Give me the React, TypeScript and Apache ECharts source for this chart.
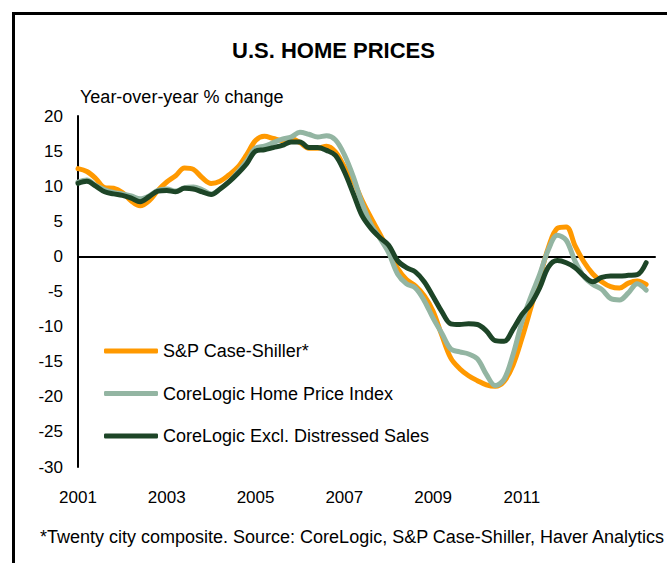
import React, { useEffect, useRef } from "react";
import * as echarts from "echarts";

// Sampling grid: first period and step, in axis years
const START_YEAR = 2001;
const STEP = 0.2;

// Year-over-year % change
const spCaseShiller = [
  12.5, 12.1, 11.1, 9.8, 9.7, 9.1, 7.9, 7.2, 7.9, 9.4,
  10.6, 11.5, 12.6, 12.4, 11.2, 10.4, 10.7, 11.6, 12.7, 14.5,
  16.5, 17.1, 16.8, 16.5, 16.8, 16.2, 15.4, 15.4, 15.7, 14.9,
  12.8, 10.8, 8.0, 5.5, 3.2, 0.8, -1.7, -3.3, -4.2, -5.6,
  -7.8, -11.3, -14.5, -16.0, -17.0, -17.7, -18.3, -18.5, -17.8, -15.5,
  -11.7, -7.4, -3.1, 1.3, 4.0, 4.2, 1.5, -0.8, -2.5, -3.6,
  -4.3, -4.5, -3.8, -3.5, -4.0,
];

const coreLogicHPI = [
  10.6, 10.9, 10.1, 9.5, 9.1, 8.9, 8.6, 8.2, 8.6, 9.4,
  9.6, 9.3, 9.8, 9.9, 9.5, 8.9, 9.6, 10.6, 12.0, 13.6,
  15.4, 15.7, 16.2, 16.7, 17.0, 17.7, 17.4, 17.0, 17.2, 16.6,
  14.5, 11.4, 7.6, 4.6, 2.6, 0.5, -2.5, -3.9, -4.5, -6.3,
  -8.8, -11.0, -13.2, -13.6, -13.9, -14.6, -16.8, -18.4, -17.5, -14.0,
  -9.4, -5.8, -2.6, 1.0, 3.0, 2.3, -0.7, -2.9, -4.0, -4.7,
  -6.0, -6.2, -5.2, -3.9, -4.8,
];

const coreLogicExDistressed = [
  10.4, 10.7, 10.0, 9.2, 8.9, 8.7, 8.3, 7.8, 8.5, 9.3,
  9.4, 9.2, 9.7, 9.6, 9.2, 8.8, 9.6, 10.6, 11.8, 13.2,
  15.0, 15.2, 15.5, 15.8, 16.3, 16.3, 15.5, 15.5, 15.1, 14.4,
  12.1, 9.0, 5.8, 4.0, 2.7, 1.6, -0.6, -1.6, -2.2, -3.6,
  -5.7, -7.9, -9.6, -9.7, -9.6, -9.7, -10.6, -12.0, -12.1, -10.4,
  -8.3, -6.8, -4.5, -1.5, -0.6, -0.9, -1.6, -2.8, -3.6, -3.0,
  -2.8, -2.8, -2.7, -2.6, -0.9,
];

const periods = spCaseShiller.map((_, i) => Number((START_YEAR + i * STEP).toFixed(1)));

const xLabelYears = [2001, 2003, 2005, 2007, 2009, 2011];
const yMin = -30;
const yMax = 20;
const yStep = 5;

const seriesNames = [
  "S&P Case-Shiller*",
  "CoreLogic Home Price Index",
  "CoreLogic Excl. Distressed Sales",
];
const seriesColors = ["#FF9900", "#93B5A2", "#1D4527"];
const seriesValues = [spCaseShiller, coreLogicHPI, coreLogicExDistressed];

const FONT = "'Liberation Sans', Arial, sans-serif";

export default function App() {
  const ref = useRef<HTMLDivElement>(null);

  useEffect(() => {
    if (!ref.current) return;
    const chart = echarts.init(ref.current, null, { renderer: "svg" });
    chart.setOption({
      animation: false,
      backgroundColor: "#ffffff",
      textStyle: { fontFamily: FONT },
      title: {
        text: "U.S. HOME PRICES",
        left: "center",
        top: 34,
        textStyle: { fontFamily: FONT, fontSize: 22, fontWeight: "bold", color: "#000" },
      },
      graphic: [
        {
          type: "rect",
          shape: { x: 13.5, y: 13.5, width: 720, height: 620 },
          style: { fill: "none", stroke: "#000", lineWidth: 3 },
          silent: true,
        },
        {
          type: "text",
          left: 80,
          top: 88,
          style: { text: "Year-over-year % change", fontFamily: FONT, fontSize: 18, fill: "#000" },
          silent: true,
        },
        {
          type: "text",
          left: 40,
          top: 528,
          style: {
            text: "*Twenty city composite. Source: CoreLogic, S&P Case-Shiller, Haver Analytics",
            fontFamily: FONT,
            fontSize: 18,
            fill: "#000",
          },
          silent: true,
        },
      ],
      legend: {
        orient: "vertical",
        left: 104,
        top: 342,
        padding: 0,
        itemWidth: 54,
        itemHeight: 5,
        itemGap: 24.5,
        icon: "roundRect",
        data: seriesNames,
        textStyle: { fontFamily: FONT, fontSize: 18, color: "#000", lineHeight: 18 },
      },
      grid: { left: 78, right: 12, top: 116, bottom: 96, containLabel: false },
      xAxis: [
        {
          type: "value",
          min: 2001,
          max: 2014,
          interval: 2,
          axisLine: { show: false },
          axisTick: { show: false },
          splitLine: { show: false },
          axisLabel: {
            margin: 22,
            fontFamily: FONT,
            fontSize: 17,
            color: "#000",
            showMaxLabel: false,
            formatter: (v: number) => (xLabelYears.includes(Math.round(v)) && Math.abs(v - Math.round(v)) < 1e-6 ? String(Math.round(v)) : ""),
          },
        },
        {
          type: "value",
          min: 2001,
          max: 2014,
          position: "bottom",
          axisLine: { show: true, onZero: true, onZeroAxisIndex: 0, lineStyle: { color: "#000", width: 2 } },
          axisTick: { show: false },
          axisLabel: { show: false },
          splitLine: { show: false },
        },
      ],
      yAxis: {
        type: "value",
        min: yMin,
        max: yMax,
        interval: yStep,
        axisLine: { show: true, lineStyle: { color: "#000", width: 2 } },
        axisTick: { show: false },
        splitLine: { show: false },
        axisLabel: { margin: 15, fontFamily: FONT, fontSize: 17, color: "#000" },
      },
      series: seriesNames.map((name, k) => ({
        name,
        type: "line",
        xAxisIndex: 0,
        data: periods.map((p, i) => [p, seriesValues[k][i]]),
        showSymbol: false,
        symbol: "none",
        smooth: 0.35,
        color: seriesColors[k],
        lineStyle: { width: 5, color: seriesColors[k], cap: "round", join: "round" },
        z: 2 + k,
      })),
    });
    return () => chart.dispose();
  }, []);

  return (
    <div
      ref={ref}
      style={{ position: "fixed", left: 0, top: 0, width: 667, height: 563, background: "#fff" }}
    />
  );
}
